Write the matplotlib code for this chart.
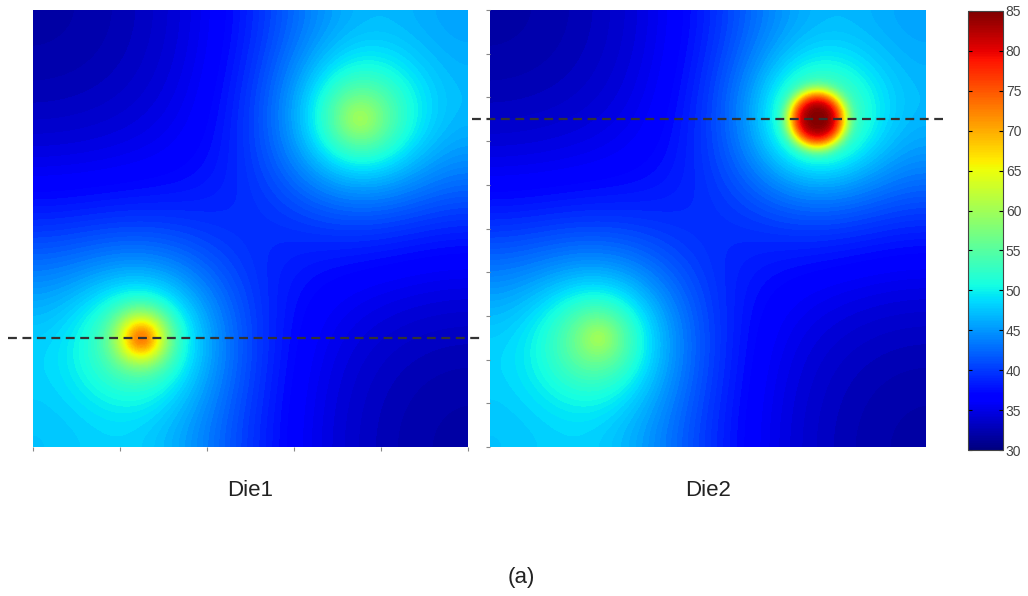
import numpy as np
import matplotlib.pyplot as plt
from matplotlib.cm import ScalarMappable
from matplotlib.colors import Normalize

plt.rcParams['font.family'] = ['Liberation Sans', 'DejaVu Sans']

# readings from the thermal maps (die coords 0..1, y from bottom)
die_names = ["Die1", "Die2"]
spot_x = [0.25, 0.75]
spot_y = [0.25, 0.75]
spread_amp = [28.0, 30.5]      # degC, heat spreading part of each hot spot
spread_soft = [0.02, 0.03]
spread_len = [0.20, 0.18]
core_amp = {"Die1": [13.0, 0.0], "Die2": [0.0, 25.5]}   # sharp local core
core_width = [0.055, 0.065]
core_power = [2, 4]
base_temp = 28.0
cbar_ticks = [30, 35, 40, 45, 50, 55, 60, 65, 70, 75, 80, 85]
t_min, t_max = 30, 85

W, H = 1028, 596


def box(l, t, r, b):
    return [l / W, 1 - b / H, (r - l) / W, (b - t) / H]


def die_field(U, V, cores):
    T = np.full(U.shape, base_temp)
    for k in range(len(spot_x)):
        # mirrored sources so the die edges act as adiabatic walls
        for sx in (spot_x[k], -spot_x[k], 2 - spot_x[k]):
            for sy in (spot_y[k], -spot_y[k], 2 - spot_y[k]):
                r = np.hypot(U - sx, V - sy)
                T += spread_amp[k] * np.exp(-np.sqrt(r**2 + spread_soft[k]**2) / spread_len[k])
        r = np.hypot(U - spot_x[k], V - spot_y[k])
        T += cores[k] * np.exp(-(r / core_width[k]) ** core_power[k])
    return T


u = np.linspace(0, 1, 400)
U, V = np.meshgrid(u, u)
levels = np.arange(t_min, t_max + 0.01, 0.5)

fig = plt.figure(figsize=(W / 100, H / 100), dpi=100)
axes = [fig.add_axes(box(33, 10, 468, 447)), fig.add_axes(box(490, 10, 926, 447))]
line_x = [(-0.057, 1.028), (-0.041, 1.039)]
line_row = [0, 1]

for i, ax in enumerate(axes):
    name = die_names[i]
    T = np.clip(die_field(U, V, core_amp[name]), t_min + 0.01, t_max - 0.01)
    ax.contourf(U, V, T, levels=levels, cmap='jet', vmin=t_min, vmax=t_max)
    ax.set_xlim(0, 1)
    ax.set_ylim(0, 1)
    for s in ax.spines.values():
        s.set_visible(False)
    ax.plot(line_x[i], [spot_y[line_row[i]]] * 2, ls=(0, (4, 2.5)), color='#333333',
            lw=1.6, clip_on=False)
    ax.text(0.5, -0.1, name, transform=ax.transAxes, ha='center', va='center', fontsize=16,
            color='#222222')

axes[0].set_xticks(np.linspace(0, 1, 6))
axes[0].set_yticks([])
axes[0].tick_params(axis='x', direction='out', length=3, color='#888888', labelbottom=False)
axes[1].set_xticks([])
axes[1].set_yticks(np.linspace(0, 1, 11))
axes[1].tick_params(axis='y', direction='out', length=3, color='#888888', labelleft=False)

cax = fig.add_axes(box(968, 11, 1003, 450))
cb = fig.colorbar(ScalarMappable(norm=Normalize(t_min, t_max), cmap='jet'), cax=cax,
                  ticks=cbar_ticks)
cb.outline.set_linewidth(0.8)
cb.outline.set_edgecolor('#444444')
cax.tick_params(axis='y', direction='in', length=3, left=True, right=True,
                labelsize=10, labelcolor='#444444', pad=2)

fig.text(521 / W, 1 - 578 / H, "(a)", ha='center', va='center', fontsize=16, color='#222222')

fig.savefig("out.png", dpi=100)
